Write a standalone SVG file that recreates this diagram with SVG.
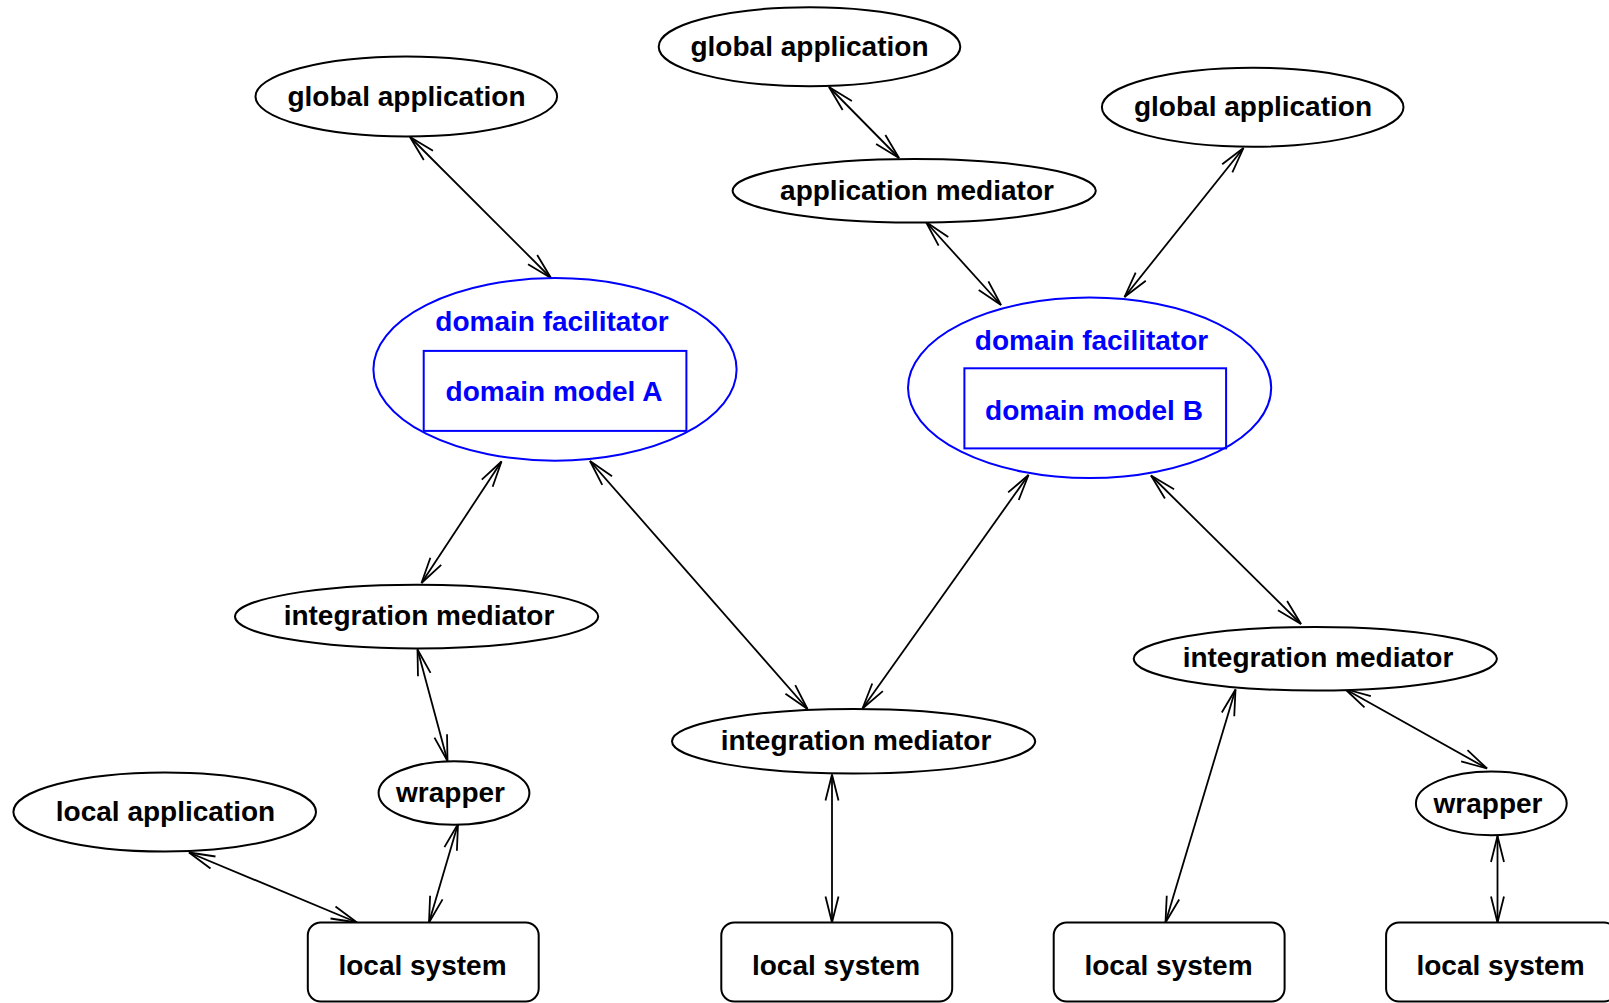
<svg xmlns="http://www.w3.org/2000/svg" width="1609" height="1003" viewBox="0 0 1609 1003">
<style>
.n ellipse, .n rect { fill: #ffffff; stroke: #000000; stroke-width: 2; }
.b ellipse, .b rect { fill: none; stroke: #0000ff; stroke-width: 2; }
text { font-family: "Liberation Sans", Arial, sans-serif; font-weight: bold; font-size: 28px; text-anchor: middle; fill: #000000; }
.b text { fill: #0000ff; }
#edges line { stroke: #000000; stroke-width: 1.8; fill: none; marker-start: url(#ah); marker-end: url(#ah); }
</style>
<defs>
<marker id="ah" markerUnits="userSpaceOnUse" markerWidth="30" markerHeight="20" viewBox="-28 -10 30 20" refX="0" refY="0" orient="auto-start-reverse" overflow="visible">
<path d="M-26,-6.5 L0,0 L-26,6.5" fill="none" stroke="#000000" stroke-width="1.8"/>
</marker>
</defs>
<rect x="0" y="0" width="1609" height="1003" fill="#ffffff"/>

<g id="edges">
<line x1="410" y1="137" x2="551" y2="278"/>
<line x1="829" y1="87" x2="899" y2="158"/>
<line x1="926" y1="222" x2="1001" y2="305"/>
<line x1="1243.5" y1="148" x2="1124.5" y2="297"/>
<line x1="501.5" y1="461.5" x2="421.5" y2="583"/>
<line x1="590" y1="461" x2="807.5" y2="709"/>
<line x1="1028.5" y1="475" x2="862.5" y2="708.5"/>
<line x1="1151" y1="475.5" x2="1301" y2="624"/>
<line x1="417.5" y1="649.5" x2="447.5" y2="761"/>
<line x1="458" y1="824" x2="429" y2="922.5"/>
<line x1="189" y1="852.5" x2="357" y2="922.5"/>
<line x1="832" y1="774.5" x2="832" y2="922.5"/>
<line x1="1235.5" y1="689.5" x2="1165.5" y2="922.5"/>
<line x1="1345" y1="689" x2="1487" y2="768.5"/>
<line x1="1497.5" y1="836" x2="1497.5" y2="922.5"/>
</g>

<g id="global-application-1" class="n">
<ellipse cx="406.3" cy="96.5" rx="150.8" ry="40"/>
<text x="406.5" y="105.5">global application</text>
</g>
<g id="global-application-2" class="n">
<ellipse cx="809.5" cy="46.7" rx="150.8" ry="39.5"/>
<text x="809.5" y="55.5">global application</text>
</g>
<g id="global-application-3" class="n">
<ellipse cx="1252.7" cy="107.2" rx="150.8" ry="39.5"/>
<text x="1253" y="116">global application</text>
</g>
<g id="application-mediator" class="n">
<ellipse cx="914.2" cy="190.8" rx="181.6" ry="31.8"/>
<text x="917" y="199.5">application mediator</text>
</g>
<g id="domain-facilitator-a" class="b">
<ellipse cx="555" cy="369.4" rx="181.6" ry="91.3"/>
<text x="552" y="330.5">domain facilitator</text>
<rect x="423.7" y="350.9" width="262.7" height="80"/>
<text x="554" y="401.2">domain model A</text>
</g>
<g id="domain-facilitator-b" class="b">
<ellipse cx="1089.6" cy="387.8" rx="181.6" ry="90.3"/>
<text x="1091.5" y="349.9">domain facilitator</text>
<rect x="964.4" y="368.3" width="261.7" height="80.1"/>
<text x="1094" y="419.6">domain model B</text>
</g>
<g id="integration-mediator-1" class="n">
<ellipse cx="416.6" cy="616.6" rx="181.6" ry="31.8"/>
<text x="419" y="625">integration mediator</text>
</g>
<g id="integration-mediator-2" class="n">
<ellipse cx="853.6" cy="741.3" rx="181.6" ry="32.3"/>
<text x="856" y="749.5">integration mediator</text>
</g>
<g id="integration-mediator-3" class="n">
<ellipse cx="1315.3" cy="658.7" rx="181.6" ry="31.8"/>
<text x="1318" y="667">integration mediator</text>
</g>
<g id="wrapper-1" class="n">
<ellipse cx="454" cy="793" rx="75.4" ry="31.8"/>
<text x="450.5" y="802">wrapper</text>
</g>
<g id="wrapper-2" class="n">
<ellipse cx="1491.3" cy="803.4" rx="75.4" ry="31.8"/>
<text x="1488" y="812.5">wrapper</text>
</g>
<g id="local-application" class="n">
<ellipse cx="164.7" cy="812" rx="151.3" ry="39.5"/>
<text x="165.5" y="821">local application</text>
</g>
<g id="local-system-1" class="n">
<rect x="307.8" y="922.5" width="230.9" height="79" rx="13" ry="13"/>
<text x="422.5" y="974.5">local system</text>
</g>
<g id="local-system-2" class="n">
<rect x="721.3" y="922.5" width="230.9" height="79" rx="13" ry="13"/>
<text x="836" y="974.5">local system</text>
</g>
<g id="local-system-3" class="n">
<rect x="1053.7" y="922.5" width="230.9" height="79" rx="13" ry="13"/>
<text x="1168.5" y="974.5">local system</text>
</g>
<g id="local-system-4" class="n">
<rect x="1386.1" y="922.5" width="230.9" height="79" rx="13" ry="13"/>
<text x="1500.5" y="974.5">local system</text>
</g>
</svg>
